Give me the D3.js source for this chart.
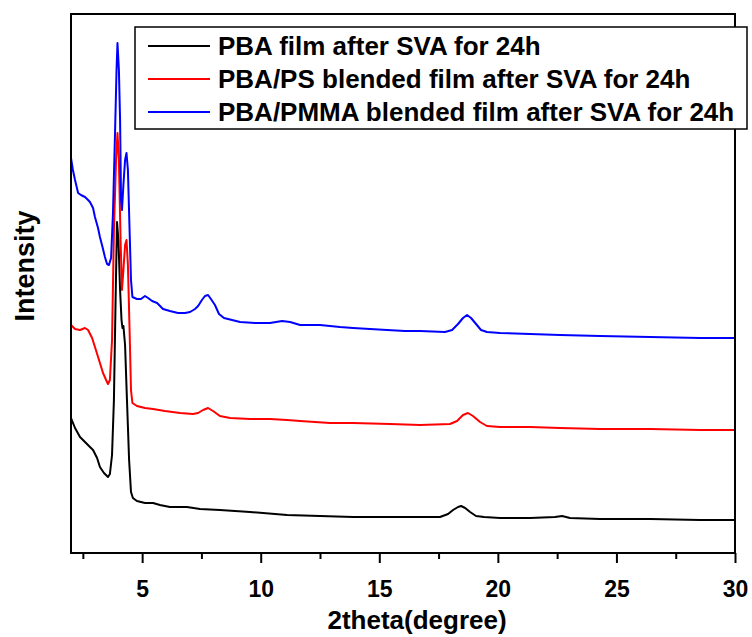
<!DOCTYPE html>
<html>
<head>
<meta charset="utf-8">
<script src="https://cdn.jsdelivr.net/npm/d3@7"></script>
<style>
  html, body { margin: 0; padding: 0; background: #fff; }
  svg { display: block; }
  text { font-family: "Liberation Sans", Arial, sans-serif; font-weight: bold; fill: #000; }
</style>
</head>
<body>
<svg id="chart" width="752" height="637"></svg>
<script>
// ---------- data (2theta in degrees, intensity in arbitrary units) ----------
const seriesNames = [
  "PBA film after SVA for 24h",
  "PBA/PS blended film after SVA for 24h",
  "PBA/PMMA blended film after SVA for 24h"
];
const seriesColors = ["#000000", "#ff0000", "#0000ff"];

const pbaTheta = [2.00,2.17,2.38,2.59,2.80,2.93,3.10,3.22,3.39,3.56,3.64,3.73,3.81,3.88,3.94,4.00,4.07,4.13,4.17,4.21,4.28,4.36,4.45,4.53,4.61,4.78,5.12,5.46,5.75,6.17,6.89,7.44,8.28,9.55,11.11,12.50,13.89,15.45,16.72,17.56,17.90,18.11,18.32,18.45,18.62,18.83,19.08,19.42,20.09,21.36,22.41,22.71,23.04,24.31,26.42,28.53,30.00];
const pbaInt   = [1350,1250,1160,1110,1060,1030,950,860,800,760,790,980,1530,2530,3310,3130,2630,2330,2250,2270,2080,1530,930,610,550,520,500,500,480,460,460,440,430,410,380,370,360,360,360,360,390,430,460,470,450,410,370,360,350,350,360,370,350,340,340,330,330];

const psTheta = [2.00,2.17,2.38,2.59,2.72,2.89,3.05,3.22,3.35,3.48,3.56,3.64,3.73,3.81,3.90,3.96,4.02,4.09,4.15,4.21,4.28,4.34,4.40,4.47,4.53,4.59,4.78,5.12,5.46,5.96,6.60,7.14,7.36,7.57,7.78,7.99,8.28,8.71,9.55,10.39,11.11,11.66,12.92,13.89,15.45,16.72,17.98,18.28,18.53,18.74,18.95,19.25,19.54,20.09,21.36,22.62,24.31,26.42,28.53,30.00];
const psInt   = [2280,2240,2230,2250,2230,2150,2030,1900,1800,1730,1690,1730,2130,3230,3930,4200,3930,3130,2630,2830,3080,3130,2880,2230,1630,1500,1470,1450,1440,1420,1400,1390,1400,1430,1450,1420,1370,1350,1340,1340,1330,1320,1300,1300,1290,1280,1290,1320,1380,1400,1370,1310,1270,1260,1260,1250,1240,1240,1230,1230];

const pmmaTheta = [2.00,2.08,2.17,2.30,2.42,2.59,2.72,2.80,2.93,3.01,3.14,3.22,3.35,3.43,3.52,3.60,3.69,3.77,3.86,3.92,3.96,4.02,4.07,4.11,4.15,4.21,4.28,4.34,4.40,4.47,4.53,4.59,4.78,4.95,5.12,5.25,5.42,5.63,5.88,6.17,6.51,6.81,7.02,7.23,7.36,7.52,7.65,7.78,7.90,8.07,8.24,8.45,8.79,9.13,9.76,10.39,10.90,11.24,11.66,12.50,13.34,13.89,14.61,15.33,16.08,16.72,17.77,18.07,18.32,18.53,18.70,18.87,19.08,19.29,19.54,20.09,21.36,22.62,24.31,26.42,28.53,30.00];
const pmmaInt   = [3950,3830,3730,3600,3580,3560,3530,3510,3450,3360,3250,3160,3040,2960,2890,2880,2950,3400,4230,4830,5100,4830,4330,3530,3430,3680,3930,4000,3830,3230,2730,2560,2540,2540,2570,2550,2520,2500,2440,2420,2400,2400,2410,2440,2470,2530,2570,2580,2540,2480,2390,2350,2330,2310,2300,2300,2320,2310,2280,2280,2260,2250,2240,2230,2220,2220,2210,2230,2290,2350,2380,2350,2290,2230,2210,2200,2190,2180,2170,2160,2150,2150];

const xTickValues = [5, 10, 15, 20, 25, 30];
const xMinorTickValues = [2.5, 7.5, 12.5, 17.5, 22.5, 27.5];
const xLabel = "2theta(degree)";
const yLabel = "Intensity";

// ---------- layout ----------
const svg = d3.select("#chart");
const plot = { left: 71, right: 735, top: 14, bottom: 553 };

const x = d3.scaleLinear().domain([2, 30]).range([plot.left, plot.right]);
const y = d3.scaleLinear().domain([0, 5390]).range([plot.bottom, plot.top]);

const series = [
  { name: seriesNames[0], color: seriesColors[0], theta: pbaTheta, val: pbaInt },
  { name: seriesNames[1], color: seriesColors[1], theta: psTheta, val: psInt },
  { name: seriesNames[2], color: seriesColors[2], theta: pmmaTheta, val: pmmaInt }
];

const clipId = "plotclip";
svg.append("defs").append("clipPath").attr("id", clipId)
  .append("rect").attr("x", plot.left).attr("y", plot.top)
  .attr("width", plot.right - plot.left).attr("height", plot.bottom - plot.top);

const line = d3.line().x(d => x(d[0])).y(d => y(d[1]));

const lines = svg.append("g").attr("clip-path", `url(#${clipId})`);
series.forEach(s => {
  const pts = s.theta.map((t, i) => [t, s.val[i]]);
  lines.append("path")
    .datum(pts)
    .attr("d", line)
    .attr("fill", "none")
    .attr("stroke", s.color)
    .attr("stroke-width", 2)
    .attr("stroke-linejoin", "round");
});

// frame
svg.append("rect")
  .attr("x", plot.left).attr("y", plot.top)
  .attr("width", plot.right - plot.left).attr("height", plot.bottom - plot.top)
  .attr("fill", "none").attr("stroke", "#000").attr("stroke-width", 2);

// x axis
const xAxis = d3.axisBottom(x).tickValues(xTickValues).tickSize(10).tickPadding(18)
  .tickFormat(d3.format("d"));
const gx = svg.append("g").attr("transform", `translate(0,${plot.bottom})`).call(xAxis);
gx.select(".domain").remove();
gx.selectAll(".tick line").attr("stroke", "#000").attr("stroke-width", 2);
gx.selectAll(".tick text").style("font-size", "23px").style("font-family", '"Liberation Sans", Arial, sans-serif').style("font-weight", "bold");

const xMinor = d3.axisBottom(x).tickValues(xMinorTickValues).tickSize(6).tickFormat("");
const gxm = svg.append("g").attr("transform", `translate(0,${plot.bottom})`).call(xMinor);
gxm.select(".domain").remove();
gxm.selectAll(".tick line").attr("stroke", "#000").attr("stroke-width", 2);

// axis titles
svg.append("text")
  .attr("x", 417).attr("y", 629)
  .attr("text-anchor", "middle")
  .style("font-size", "26px")
  .text(xLabel);

svg.append("text")
  .attr("transform", `translate(34,266) rotate(-90)`)
  .attr("text-anchor", "middle")
  .style("font-size", "27px")
  .text(yLabel);

// legend
const legend = svg.append("g");
legend.append("rect")
  .attr("x", 135).attr("y", 27).attr("width", 612).attr("height", 102)
  .attr("fill", "#fff").attr("stroke", "#000").attr("stroke-width", 1.5);
series.forEach((s, i) => {
  const ly = 46 + i * 33;
  legend.append("line")
    .attr("x1", 148).attr("x2", 210).attr("y1", ly).attr("y2", ly)
    .attr("stroke", s.color).attr("stroke-width", 2);
  legend.append("text")
    .attr("x", 218).attr("y", ly).attr("dy", "0.36em")
    .style("font-size", "26px")
    .text(s.name);
});
</script>
</body>
</html>
